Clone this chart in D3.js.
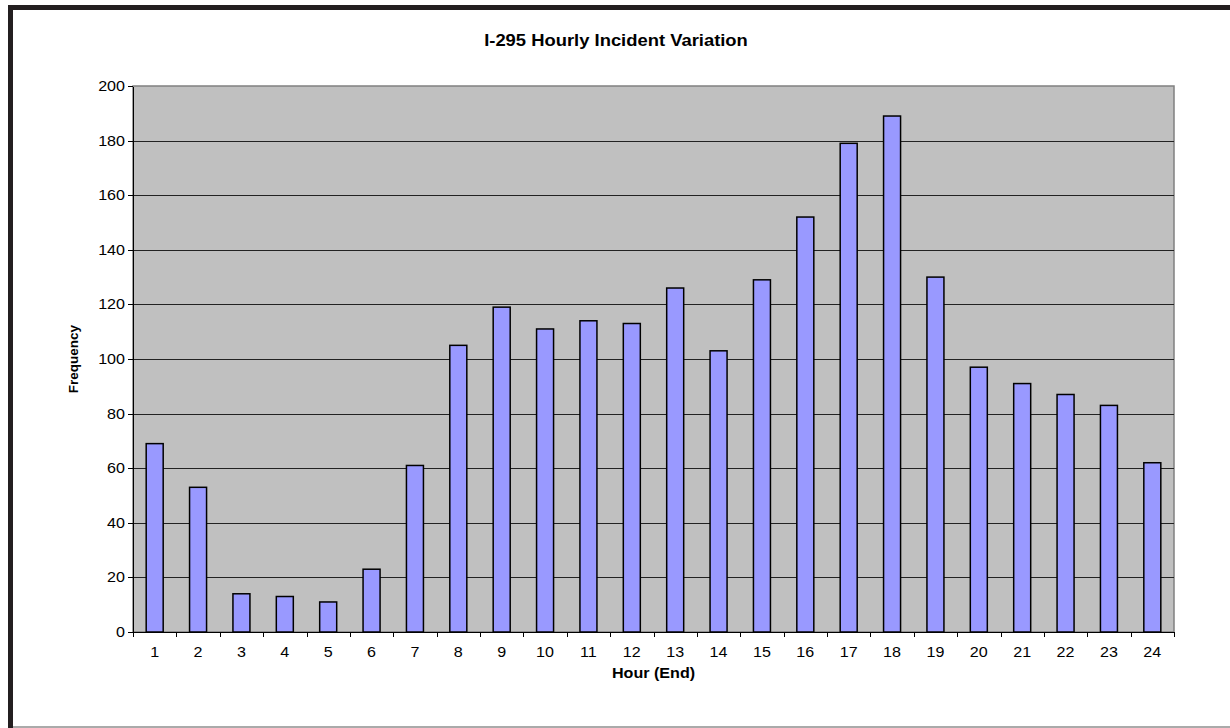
<!DOCTYPE html>
<html>
<head>
  <meta charset="utf-8">
  <script src="https://d3js.org/d3.v7.min.js"></script>
  <style>
    body { margin: 0; background: #fff; }
    text { font-family: "Liberation Sans", Arial, sans-serif; fill: #000; }
    .axis path, .axis line { stroke: #000; shape-rendering: crispEdges; }
    .grid line { stroke: #222; shape-rendering: crispEdges; }
    .bar { fill: #9999ff; stroke: #000; stroke-width: 1.5px; }
  </style>
</head>
<body>
<div id="chart"></div>
<script>
  // data
  var hours = ["1","2","3","4","5","6","7","8","9","10","11","12","13","14","15","16","17","18","19","20","21","22","23","24"];
  var counts = [69, 53, 14, 13, 11, 23, 61, 105, 119, 111, 114, 113, 126, 103, 129, 152, 179, 189, 130, 97, 91, 87, 83, 62];
  var yTicks = [0, 20, 40, 60, 80, 100, 120, 140, 160, 180, 200];

  var W = 1230, H = 728;
  var margin = {top: 86, right: 56, bottom: 96, left: 133},
      width = W - margin.left - margin.right,
      height = H - margin.top - margin.bottom;
  var stretch = 1.15; // the original text looks a bit wide

  var svg = d3.select("#chart").append("svg")
    .attr("width", W)
    .attr("height", H);

  // outer frame
  svg.append("rect").attr("x", 8).attr("y", 5).attr("width", 5).attr("height", H - 5).attr("fill", "#231f20");
  svg.append("rect").attr("x", 8).attr("y", 5).attr("width", W - 8).attr("height", 5).attr("fill", "#231f20");
  svg.append("rect").attr("x", 13).attr("y", H - 2).attr("width", W - 13).attr("height", 2).attr("fill", "#aaa");

  var g = svg.append("g")
    .attr("transform", "translate(" + margin.left + "," + margin.top + ")");

  var xb = d3.scaleBand().domain(hours).range([0, width]);
  var y = d3.scaleLinear().domain([0, 200]).range([height, 0]);

  // plot background
  g.append("rect")
    .attr("width", width)
    .attr("height", height)
    .attr("fill", "#c0c0c0")
    .attr("stroke", "#808080")
    .attr("stroke-width", 1.5);

  // gridlines
  g.append("g")
    .attr("class", "grid")
    .selectAll("line")
    .data(yTicks.filter(function(d) { return d > 0 && d < 200; }))
    .enter().append("line")
      .attr("x1", 0).attr("x2", width)
      .attr("y1", function(d) { return Math.round(y(d)) + 0.5; })
      .attr("y2", function(d) { return Math.round(y(d)) + 0.5; });

  // bars
  g.selectAll(".bar")
    .data(counts)
    .enter().append("rect")
      .attr("class", "bar")
      .attr("x", function(d, i) { return xb(hours[i]) + xb.bandwidth() / 2 - 8.5; })
      .attr("width", 17)
      .attr("y", function(d) { return y(d); })
      .attr("height", function(d) { return height - y(d); });

  // y axis
  var yAxis = g.append("g")
    .attr("class", "axis")
    .call(d3.axisLeft(y).tickValues(yTicks).tickSize(5).tickSizeOuter(0));
  yAxis.selectAll(".tick text")
    .attr("x", null)
    .attr("transform", "translate(-8,0) scale(" + stretch + ",1)")
    .style("font-size", "14px");

  // x axis with ticks between categories
  var xAxis = g.append("g")
    .attr("class", "axis")
    .attr("transform", "translate(0," + height + ")");
  xAxis.append("line").attr("x1", 0).attr("x2", width).attr("y1", 0.5).attr("y2", 0.5);
  xAxis.selectAll(".tk")
    .data(hours.concat(["end"]))
    .enter().append("line")
      .attr("class", "tk")
      .attr("x1", function(d, i) { return Math.round(i * xb.step()) + 0.5; })
      .attr("x2", function(d, i) { return Math.round(i * xb.step()) + 0.5; })
      .attr("y1", 0).attr("y2", 5);
  xAxis.selectAll(".lbl")
    .data(hours)
    .enter().append("text")
      .attr("class", "lbl")
      .attr("transform", function(d) { return "translate(" + (xb(d) + xb.bandwidth() / 2) + ",25) scale(" + stretch + ",1)"; })
      .attr("text-anchor", "middle")
      .style("font-size", "14px")
      .text(function(d) { return d; });

  // titles
  svg.append("text")
    .attr("transform", "translate(616,46) scale(" + stretch + ",1)")
    .attr("text-anchor", "middle")
    .style("font-size", "16px").style("font-weight", "bold")
    .text("I-295 Hourly Incident Variation");

  svg.append("text")
    .attr("transform", "translate(" + (margin.left + width / 2) + ",678) scale(" + stretch + ",1)")
    .attr("text-anchor", "middle")
    .style("font-size", "14px").style("font-weight", "bold")
    .text("Hour (End)");

  svg.append("text")
    .attr("transform", "translate(78," + (margin.top + height / 2) + ") rotate(-90)")
    .attr("text-anchor", "middle")
    .style("font-size", "13.5px").style("font-weight", "bold")
    .text("Frequency");
</script>
</body>
</html>
